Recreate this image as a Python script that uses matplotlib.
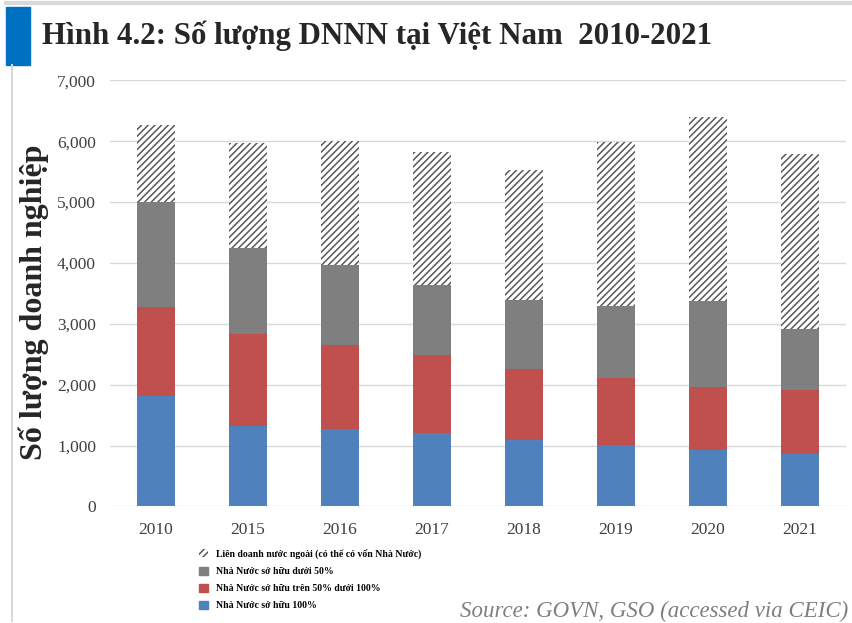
import numpy as np
import matplotlib.pyplot as plt
import matplotlib.patches as mpatches
from matplotlib.lines import Line2D

plt.rcParams["font.family"] = ["Liberation Serif", "DejaVu Serif"]
plt.rcParams["hatch.linewidth"] = 1.1

years = ["2010", "2015", "2016", "2017", "2018", "2019", "2020", "2021"]
# Stacked segments (bottom to top)
so_huu_100 = [1810, 1320, 1275, 1210, 1100, 1010, 925, 870]
tren_50 = [1475, 1520, 1385, 1285, 1165, 1100, 1045, 1040]
duoi_50 = [1710, 1410, 1305, 1150, 1120, 1185, 1400, 1000]
lien_doanh = [1275, 1720, 2040, 2175, 2135, 2700, 3030, 2885]

labels = [
    "Nhà Nước sở hữu 100%",
    "Nhà Nước sở hữu trên 50% dưới 100%",
    "Nhà Nước sở hữu dưới 50%",
    "Liên doanh nước ngoài (có thể có vốn Nhà Nước)",
]
BLUE = "#4F81BD"
RED = "#C0504D"
GRAY = "#7F7F7F"
HATCH_COL = "#595959"

fig = plt.figure(figsize=(8.52, 6.23), dpi=100)
ax = fig.add_axes([0.129, 0.187, 0.864, 0.684])

x = np.arange(len(years))
w = 0.41
b1 = np.array(so_huu_100)
b2 = b1 + np.array(tren_50)
b3 = b2 + np.array(duoi_50)

ax.bar(x, so_huu_100, w, color=BLUE, zorder=3)
ax.bar(x, tren_50, w, bottom=b1, color=RED, zorder=3)
ax.bar(x, duoi_50, w, bottom=b2, color=GRAY, zorder=3)
ax.bar(x, lien_doanh, w, bottom=b3, facecolor="white", edgecolor=HATCH_COL,
       hatch="/////", linewidth=0, zorder=3)

ax.set_xlim(-0.5, len(years) - 0.5)
ax.set_ylim(0, 7000)
ax.set_yticks(np.arange(0, 7001, 1000))
ax.yaxis.set_major_formatter(plt.FuncFormatter(lambda v, _: f"{v:,.0f}"))
ax.set_xticks(x)
ax.set_xticklabels(years)
ax.tick_params(axis="both", length=0, labelsize=12.5, labelcolor="#404040")
ax.tick_params(axis="y", pad=10)
ax.tick_params(axis="x", pad=11)
ax.grid(axis="y", color="#D9D9D9", linewidth=1, zorder=0)
for s in ax.spines.values():
    s.set_visible(False)

ax.set_ylabel("Số lượng doanh nghiệp", fontsize=23, fontweight="bold",
              color="#262626", va="center")
ax.yaxis.set_label_coords(-0.104, 0.48)

# Title with blue block and frame lines
fig.add_artist(mpatches.Rectangle((6 / 852, 1 - 65 / 623), 24 / 852, 58 / 623,
                                  transform=fig.transFigure, color="#0070C0"))
fig.add_artist(Line2D([6 / 852, 1], [1 - 3 / 623, 1 - 3 / 623],
                      transform=fig.transFigure, color="#D9D9D9", linewidth=3))
fig.add_artist(Line2D([12 / 852, 12 / 852], [1 - 65 / 623, 2 / 623],
                      transform=fig.transFigure, color="#D9D9D9", linewidth=1.5))
fig.text(42 / 852, 1 - 36 / 623, "Hình 4.2: Số lượng DNNN tại Việt Nam  2010-2021",
         fontsize=22.2, fontweight="bold", color="#262626", va="center", ha="left")

handles = [
    mpatches.Patch(facecolor="white", edgecolor=HATCH_COL, hatch="/////", linewidth=0,
                   label=labels[3]),
    mpatches.Patch(color=GRAY, label=labels[2]),
    mpatches.Patch(color=RED, label=labels[1]),
    mpatches.Patch(color=BLUE, label=labels[0]),
]
fig.legend(handles=handles, loc="upper left", bbox_to_anchor=(190 / 852, 1 - 540 / 623),
           frameon=False, ncol=1, handlelength=0.9, handleheight=0.9,
           handletextpad=0.9, labelspacing=0.8,
           prop={"family": "Liberation Serif", "weight": "bold", "size": 7})

fig.text(848 / 852, 1 - 611 / 623, "Source: GOVN, GSO (accessed via CEIC)",
         fontsize=16.5, style="italic", color="#7F7F7F", ha="right", va="center")

fig.savefig("out.png", dpi=100)
